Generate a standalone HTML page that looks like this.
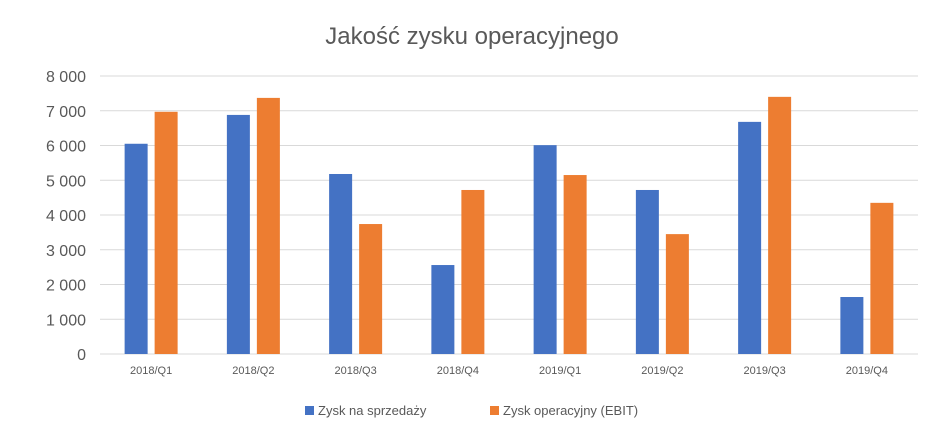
<!DOCTYPE html>
<html><head><meta charset="utf-8"><style>
body{margin:0;background:#fff;font-family:"Liberation Sans",sans-serif;}
</style></head><body>
<svg id="c" width="944" height="429" xmlns="http://www.w3.org/2000/svg">
<rect width="944" height="429" fill="#fff"/>
<text x="472" y="44" text-anchor="middle" font-size="24" fill="#595959">Jakość zysku operacyjnego</text>
<g id="grid"></g><g id="bars"></g><g id="labels"></g>
<g>
<rect x="305" y="406" width="9" height="9" fill="#4472C4"/>
<text x="318" y="415" font-size="13" fill="#595959">Zysk na sprzedaży</text>
<rect x="490" y="406" width="9" height="9" fill="#ED7D31"/>
<text x="503" y="415" font-size="13" fill="#595959">Zysk operacyjny (EBIT)</text>
</g>
</svg>
<script>
const categories=["2018/Q1","2018/Q2","2018/Q3","2018/Q4","2019/Q1","2019/Q2","2019/Q3","2019/Q4"];
const salesProfit=[6050,6880,5180,2560,6010,4720,6680,1640];
const ebit=[6970,7370,3740,4720,5150,3450,7400,4350];
const yTicks=[0,1000,2000,3000,4000,5000,6000,7000,8000];
const yTickLabels=["0","1 000","2 000","3 000","4 000","5 000","6 000","7 000","8 000"];
const NS="http://www.w3.org/2000/svg";
const plotLeft=100,plotRight=918,plotTop=76,plotBottom=354,yMax=8000;
const yScale=v=>plotBottom-(v/yMax)*(plotBottom-plotTop);
const band=(plotRight-plotLeft)/categories.length;
const xScale=i=>plotLeft+band*i;
function mk(tag,attrs,parent,txt){const e=document.createElementNS(NS,tag);for(const k in attrs)e.setAttribute(k,attrs[k]);if(txt!==undefined)e.textContent=txt;document.getElementById(parent).appendChild(e);return e;}
yTicks.forEach((t,i)=>{
const l=mk("line",{x1:plotLeft,x2:plotRight,y1:yScale(t),y2:yScale(t),stroke:"#D9D9D9","stroke-width":1},"grid");


const tx=mk("text",{x:86,y:yScale(t)+6,"text-anchor":"end","font-size":16,fill:"#595959"},"labels",yTickLabels[i]);


});
const bw=23,gap=7;
categories.forEach((c,i)=>{
const cx=xScale(i)+band/2;
const b1=mk("rect",{x:cx-gap/2-bw,y:yScale(salesProfit[i]),width:bw,height:plotBottom-yScale(salesProfit[i]),fill:"#4472C4"},"bars");


const b2=mk("rect",{x:cx+gap/2,y:yScale(ebit[i]),width:bw,height:plotBottom-yScale(ebit[i]),fill:"#ED7D31"},"bars");


const tl=mk("text",{x:cx,y:374,"text-anchor":"middle","font-size":11,fill:"#595959"},"labels",c);


});
</script>
</body></html>
